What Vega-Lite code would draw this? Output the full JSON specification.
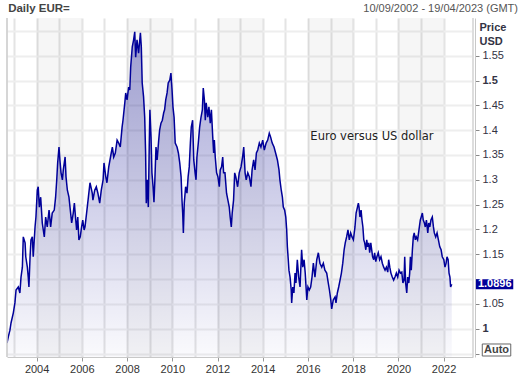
{
  "$schema": "https://vega.github.io/schema/vega-lite/v6.json",
  "width": 466,
  "height": 339,
  "autosize": {"type": "none"},
  "padding": {"left": 7, "top": 18, "right": 48, "bottom": 16},
  "background": "white",
  "config": {"view": {"stroke": null}, "font": "Liberation Sans"},
  "datasets": {
    "bands": [{"from": 2004, "to": 2006}, {"from": 2008, "to": 2010}, {"from": 2012, "to": 2014}, {"from": 2016, "to": 2018}, {"from": 2020, "to": 2022}],
    "eurusd": [
      {"year":2002.69,"usd":0.971},{"year":2002.75,"usd":0.984},{"year":2002.82,"usd":0.997},{"year":2002.87,"usd":1.012},{"year":2002.97,"usd":1.032},{"year":2003.04,"usd":1.052},{"year":2003.09,"usd":1.078},{"year":2003.19,"usd":1.084},{"year":2003.26,"usd":1.072},{"year":2003.31,"usd":1.104},{"year":2003.37,"usd":1.124},{"year":2003.41,"usd":1.185},{"year":2003.49,"usd":1.173},{"year":2003.52,"usd":1.145},{"year":2003.59,"usd":1.124},{"year":2003.63,"usd":1.104},{"year":2003.66,"usd":1.084},{"year":2003.71,"usd":1.145},{"year":2003.75,"usd":1.179},{"year":2003.81,"usd":1.185},{"year":2003.85,"usd":1.145},{"year":2003.93,"usd":1.205},{"year":2003.97,"usd":1.225},
      {"year":2004.03,"usd":1.279},{"year":2004.07,"usd":1.286},{"year":2004.12,"usd":1.245},{"year":2004.18,"usd":1.265},{"year":2004.25,"usd":1.213},{"year":2004.34,"usd":1.185},{"year":2004.40,"usd":1.225},{"year":2004.47,"usd":1.205},{"year":2004.55,"usd":1.239},{"year":2004.62,"usd":1.205},{"year":2004.69,"usd":1.233},{"year":2004.78,"usd":1.239},{"year":2004.84,"usd":1.265},{"year":2004.89,"usd":1.300},{"year":2004.93,"usd":1.334},{"year":2004.99,"usd":1.366},
      {"year":2005.03,"usd":1.340},{"year":2005.08,"usd":1.314},{"year":2005.14,"usd":1.300},{"year":2005.18,"usd":1.320},{"year":2005.26,"usd":1.346},{"year":2005.30,"usd":1.306},{"year":2005.36,"usd":1.279},{"year":2005.43,"usd":1.265},{"year":2005.49,"usd":1.239},{"year":2005.55,"usd":1.213},{"year":2005.62,"usd":1.233},{"year":2005.67,"usd":1.253},{"year":2005.73,"usd":1.219},{"year":2005.77,"usd":1.199},{"year":2005.82,"usd":1.225},{"year":2005.87,"usd":1.179},{"year":2005.93,"usd":1.185},{"year":2005.99,"usd":1.205},
      {"year":2006.04,"usd":1.219},{"year":2006.10,"usd":1.199},{"year":2006.14,"usd":1.205},{"year":2006.21,"usd":1.233},{"year":2006.29,"usd":1.265},{"year":2006.36,"usd":1.294},{"year":2006.40,"usd":1.286},{"year":2006.46,"usd":1.273},{"year":2006.49,"usd":1.259},{"year":2006.57,"usd":1.279},{"year":2006.64,"usd":1.286},{"year":2006.71,"usd":1.273},{"year":2006.79,"usd":1.253},{"year":2006.86,"usd":1.279},{"year":2006.94,"usd":1.300},{"year":2006.98,"usd":1.334},
      {"year":2007.06,"usd":1.306},{"year":2007.11,"usd":1.294},{"year":2007.19,"usd":1.326},{"year":2007.30,"usd":1.354},{"year":2007.35,"usd":1.366},{"year":2007.41,"usd":1.346},{"year":2007.48,"usd":1.354},{"year":2007.56,"usd":1.380},{"year":2007.63,"usd":1.374},{"year":2007.70,"usd":1.366},{"year":2007.78,"usd":1.406},{"year":2007.82,"usd":1.420},{"year":2007.90,"usd":1.455},{"year":2007.94,"usd":1.475},
      {"year":2008.00,"usd":1.461},{"year":2008.07,"usd":1.487},{"year":2008.12,"usd":1.481},{"year":2008.16,"usd":1.527},{"year":2008.23,"usd":1.568},{"year":2008.29,"usd":1.582},{"year":2008.34,"usd":1.598},{"year":2008.38,"usd":1.547},{"year":2008.44,"usd":1.582},{"year":2008.51,"usd":1.555},{"year":2008.59,"usd":1.596},{"year":2008.63,"usd":1.568},{"year":2008.67,"usd":1.495},{"year":2008.73,"usd":1.467},{"year":2008.78,"usd":1.426},{"year":2008.82,"usd":1.354},{"year":2008.85,"usd":1.253},{"year":2008.89,"usd":1.300},{"year":2008.94,"usd":1.245},{"year":2008.98,"usd":1.366},
      {"year":2009.01,"usd":1.441},{"year":2009.06,"usd":1.386},{"year":2009.10,"usd":1.314},{"year":2009.15,"usd":1.286},{"year":2009.19,"usd":1.255},{"year":2009.23,"usd":1.300},{"year":2009.28,"usd":1.366},{"year":2009.33,"usd":1.340},{"year":2009.40,"usd":1.380},{"year":2009.44,"usd":1.400},{"year":2009.50,"usd":1.414},{"year":2009.56,"usd":1.420},{"year":2009.62,"usd":1.435},{"year":2009.66,"usd":1.441},{"year":2009.71,"usd":1.461},{"year":2009.77,"usd":1.475},{"year":2009.82,"usd":1.495},{"year":2009.89,"usd":1.501},{"year":2009.94,"usd":1.515},{"year":2009.99,"usd":1.481},
      {"year":2010.03,"usd":1.447},{"year":2010.08,"usd":1.426},{"year":2010.13,"usd":1.374},{"year":2010.21,"usd":1.366},{"year":2010.27,"usd":1.354},{"year":2010.33,"usd":1.334},{"year":2010.39,"usd":1.306},{"year":2010.43,"usd":1.259},{"year":2010.46,"usd":1.233},{"year":2010.49,"usd":1.193},{"year":2010.53,"usd":1.253},{"year":2010.59,"usd":1.286},{"year":2010.65,"usd":1.273},{"year":2010.70,"usd":1.306},{"year":2010.75,"usd":1.326},{"year":2010.80,"usd":1.374},{"year":2010.84,"usd":1.406},{"year":2010.90,"usd":1.420},{"year":2010.95,"usd":1.340},
      {"year":2011.01,"usd":1.314},{"year":2011.05,"usd":1.300},{"year":2011.09,"usd":1.346},{"year":2011.15,"usd":1.374},{"year":2011.21,"usd":1.406},{"year":2011.27,"usd":1.426},{"year":2011.33,"usd":1.441},{"year":2011.37,"usd":1.485},{"year":2011.42,"usd":1.461},{"year":2011.46,"usd":1.420},{"year":2011.50,"usd":1.455},{"year":2011.57,"usd":1.426},{"year":2011.62,"usd":1.447},{"year":2011.68,"usd":1.414},{"year":2011.73,"usd":1.441},{"year":2011.79,"usd":1.386},{"year":2011.83,"usd":1.354},{"year":2011.86,"usd":1.380},{"year":2011.90,"usd":1.346},{"year":2011.96,"usd":1.314},
      {"year":2012.02,"usd":1.306},{"year":2012.08,"usd":1.286},{"year":2012.12,"usd":1.320},{"year":2012.18,"usd":1.326},{"year":2012.23,"usd":1.346},{"year":2012.27,"usd":1.314},{"year":2012.33,"usd":1.314},{"year":2012.40,"usd":1.273},{"year":2012.46,"usd":1.259},{"year":2012.52,"usd":1.245},{"year":2012.56,"usd":1.225},{"year":2012.61,"usd":1.205},{"year":2012.65,"usd":1.233},{"year":2012.71,"usd":1.259},{"year":2012.76,"usd":1.314},{"year":2012.81,"usd":1.306},{"year":2012.89,"usd":1.286},{"year":2012.96,"usd":1.314},
      {"year":2013.04,"usd":1.326},{"year":2013.11,"usd":1.346},{"year":2013.16,"usd":1.366},{"year":2013.22,"usd":1.314},{"year":2013.27,"usd":1.300},{"year":2013.34,"usd":1.314},{"year":2013.41,"usd":1.306},{"year":2013.48,"usd":1.286},{"year":2013.53,"usd":1.320},{"year":2013.60,"usd":1.340},{"year":2013.66,"usd":1.320},{"year":2013.72,"usd":1.354},{"year":2013.78,"usd":1.360},{"year":2013.85,"usd":1.374},{"year":2013.92,"usd":1.366},
      {"year":2014.00,"usd":1.380},{"year":2014.07,"usd":1.360},{"year":2014.15,"usd":1.374},{"year":2014.22,"usd":1.380},{"year":2014.29,"usd":1.394},{"year":2014.35,"usd":1.386},{"year":2014.42,"usd":1.374},{"year":2014.50,"usd":1.366},{"year":2014.57,"usd":1.354},{"year":2014.65,"usd":1.340},{"year":2014.72,"usd":1.320},{"year":2014.76,"usd":1.300},{"year":2014.82,"usd":1.279},{"year":2014.87,"usd":1.265},{"year":2014.91,"usd":1.245},{"year":2014.97,"usd":1.239},
      {"year":2015.02,"usd":1.225},{"year":2015.06,"usd":1.199},{"year":2015.09,"usd":1.165},{"year":2015.13,"usd":1.139},{"year":2015.16,"usd":1.118},{"year":2015.21,"usd":1.104},{"year":2015.26,"usd":1.078},{"year":2015.28,"usd":1.052},{"year":2015.33,"usd":1.084},{"year":2015.38,"usd":1.072},{"year":2015.43,"usd":1.112},{"year":2015.47,"usd":1.092},{"year":2015.53,"usd":1.139},{"year":2015.59,"usd":1.104},{"year":2015.65,"usd":1.084},{"year":2015.72,"usd":1.159},{"year":2015.77,"usd":1.124},{"year":2015.83,"usd":1.139},{"year":2015.88,"usd":1.112},{"year":2015.95,"usd":1.058},
      {"year":2016.00,"usd":1.084},{"year":2016.06,"usd":1.078},{"year":2016.12,"usd":1.084},{"year":2016.18,"usd":1.104},{"year":2016.24,"usd":1.132},{"year":2016.31,"usd":1.104},{"year":2016.39,"usd":1.139},{"year":2016.46,"usd":1.153},{"year":2016.53,"usd":1.132},{"year":2016.61,"usd":1.124},{"year":2016.68,"usd":1.132},{"year":2016.75,"usd":1.118},{"year":2016.83,"usd":1.112},{"year":2016.90,"usd":1.092},{"year":2016.95,"usd":1.078},
      {"year":2017.01,"usd":1.058},{"year":2017.05,"usd":1.040},{"year":2017.12,"usd":1.058},{"year":2017.20,"usd":1.064},{"year":2017.24,"usd":1.052},{"year":2017.30,"usd":1.072},{"year":2017.36,"usd":1.084},{"year":2017.42,"usd":1.098},{"year":2017.48,"usd":1.112},{"year":2017.54,"usd":1.132},{"year":2017.60,"usd":1.159},{"year":2017.65,"usd":1.173},{"year":2017.71,"usd":1.185},{"year":2017.77,"usd":1.199},{"year":2017.83,"usd":1.179},{"year":2017.89,"usd":1.193},{"year":2017.95,"usd":1.185},
      {"year":2018.01,"usd":1.179},{"year":2018.08,"usd":1.205},{"year":2018.13,"usd":1.233},{"year":2018.19,"usd":1.245},{"year":2018.23,"usd":1.253},{"year":2018.26,"usd":1.245},{"year":2018.30,"usd":1.225},{"year":2018.35,"usd":1.239},{"year":2018.39,"usd":1.219},{"year":2018.43,"usd":1.205},{"year":2018.47,"usd":1.179},{"year":2018.51,"usd":1.173},{"year":2018.56,"usd":1.159},{"year":2018.60,"usd":1.179},{"year":2018.64,"usd":1.165},{"year":2018.69,"usd":1.173},{"year":2018.73,"usd":1.153},{"year":2018.78,"usd":1.173},{"year":2018.82,"usd":1.159},{"year":2018.86,"usd":1.145},{"year":2018.91,"usd":1.139},{"year":2018.95,"usd":1.153},
      {"year":2019.00,"usd":1.135},{"year":2019.05,"usd":1.145},{"year":2019.11,"usd":1.153},{"year":2019.17,"usd":1.139},{"year":2019.23,"usd":1.145},{"year":2019.29,"usd":1.132},{"year":2019.35,"usd":1.124},{"year":2019.41,"usd":1.118},{"year":2019.47,"usd":1.124},{"year":2019.53,"usd":1.114},{"year":2019.57,"usd":1.139},{"year":2019.62,"usd":1.124},{"year":2019.67,"usd":1.112},{"year":2019.73,"usd":1.104},{"year":2019.79,"usd":1.098},{"year":2019.85,"usd":1.104},{"year":2019.91,"usd":1.112},{"year":2019.97,"usd":1.104},
      {"year":2020.03,"usd":1.118},{"year":2020.09,"usd":1.112},{"year":2020.15,"usd":1.114},{"year":2020.20,"usd":1.092},{"year":2020.25,"usd":1.098},{"year":2020.28,"usd":1.145},{"year":2020.32,"usd":1.092},{"year":2020.37,"usd":1.072},{"year":2020.41,"usd":1.104},{"year":2020.46,"usd":1.092},{"year":2020.50,"usd":1.112},{"year":2020.53,"usd":1.145},{"year":2020.57,"usd":1.118},{"year":2020.62,"usd":1.159},{"year":2020.66,"usd":1.185},{"year":2020.70,"usd":1.193},{"year":2020.75,"usd":1.179},{"year":2020.79,"usd":1.185},{"year":2020.85,"usd":1.179},{"year":2020.91,"usd":1.199},{"year":2020.97,"usd":1.219},
      {"year":2021.01,"usd":1.225},{"year":2021.06,"usd":1.233},{"year":2021.10,"usd":1.219},{"year":2021.15,"usd":1.213},{"year":2021.19,"usd":1.205},{"year":2021.24,"usd":1.219},{"year":2021.30,"usd":1.193},{"year":2021.34,"usd":1.213},{"year":2021.39,"usd":1.205},{"year":2021.44,"usd":1.219},{"year":2021.50,"usd":1.225},{"year":2021.55,"usd":1.205},{"year":2021.59,"usd":1.193},{"year":2021.65,"usd":1.185},{"year":2021.71,"usd":1.193},{"year":2021.77,"usd":1.179},{"year":2021.83,"usd":1.165},{"year":2021.89,"usd":1.159},{"year":2021.94,"usd":1.145},
      {"year":2022.01,"usd":1.139},{"year":2022.06,"usd":1.124},{"year":2022.11,"usd":1.132},{"year":2022.15,"usd":1.145},{"year":2022.20,"usd":1.139},{"year":2022.24,"usd":1.112},{"year":2022.28,"usd":1.104},{"year":2022.31,"usd":1.084},{"year":2022.36,"usd":1.0896}
    ]
  },
  "layer": [
    {
      "data": {"name": "bands"},
      "mark": {"type": "rect", "fill": "#000000", "opacity": 0.035},
      "encoding": {
        "x": {"field": "from", "type": "quantitative",
          "scale": {"domain": [2002.69, 2023.30], "nice": false, "zero": false},
          "axis": {"title": null, "values": [2003, 2004, 2005, 2006, 2007, 2008, 2009, 2010, 2011, 2012, 2013, 2014, 2015, 2016, 2017, 2018, 2019, 2020, 2021, 2022], "labelExpr": "datum.value % 2 == 0 ? format(datum.value, 'd') : ''", "labelFont": "Liberation Sans", "labelFontSize": 11, "labelColor": "#333333", "labelPadding": 2, "labelFlush": false, "labelOverlap": false, "labelBound": false, "tickSize": {"condition": {"test": "datum.value % 2 == 0", "value": 4}, "value": 0}, "tickColor": "#999999", "domainColor": "#c8c8c8", "grid": true, "gridColor": "#e4e4e4", "gridWidth": 2}},
        "x2": {"field": "to"}
      }
    },
    {
      "data": {"name": "eurusd"},
      "mark": {
        "type": "area",
        "clip": true,
        "color": {"gradient": "linear", "x1": 0, "y1": 0, "x2": 0, "y2": 1,
          "stops": [{"offset": 0, "color": "rgba(0,0,140,0.36)"}, {"offset": 1, "color": "rgba(0,0,140,0.02)"}]}
      },
      "encoding": {
        "x": {"field": "year", "type": "quantitative",
          "axis": {"title": null, "values": [2003, 2004, 2005, 2006, 2007, 2008, 2009, 2010, 2011, 2012, 2013, 2014, 2015, 2016, 2017, 2018, 2019, 2020, 2021, 2022], "labelExpr": "datum.value % 2 == 0 ? format(datum.value, 'd') : ''", "labelFont": "Liberation Sans", "labelFontSize": 11, "labelColor": "#333333", "labelPadding": 2, "labelFlush": false, "labelOverlap": false, "labelBound": false, "tickSize": {"condition": {"test": "datum.value % 2 == 0", "value": 4}, "value": 0}, "tickColor": "#999999", "domainColor": "#c8c8c8", "grid": true, "gridColor": "#e4e4e4", "gridWidth": 2}},
        "y": {"field": "usd", "type": "quantitative",
          "scale": {"domain": [0.943, 1.626], "nice": false, "zero": false},
          "axis": {"orient": "right", "offset": 2, "values": [0.95, 1, 1.05, 1.1, 1.15, 1.2, 1.25, 1.3, 1.35, 1.4, 1.45, 1.5, 1.55, 1.6], "labelExpr": "datum.value < 0.96 || datum.value > 1.58 || datum.value == 1.1 ? '' : format(datum.value, '.2~f')", "labelFont": "Liberation Sans", "labelFontSize": 11, "labelColor": "#333344", "labelFontWeight": {"condition": {"test": "datum.value == 1.5 || datum.value == 1", "value": "bold"}, "value": "normal"}, "labelPadding": 3, "labelOverlap": false, "labelBound": false, "tickSize": {"condition": {"test": "datum.value > 1.58", "value": 0}, "value": 4}, "tickColor": "#888888", "domainColor": "#c8c8c8", "grid": true, "gridColor": "#eeeeee", "gridWidth": 2, "title": ["Price", "USD"], "titleAngle": 0, "titleAlign": "left", "titleBaseline": "alphabetic", "titleX": 4, "titleY": 12, "titleLineHeight": 14, "titleFont": "Liberation Sans", "titleFontSize": 11, "titleFontWeight": "bold", "titleColor": "#333344"}},
        "y2": {"datum": 0.943}
      }
    },
    {
      "data": {"name": "eurusd"},
      "mark": {"type": "line", "color": "#000099", "strokeWidth": 1.5, "clip": true},
      "encoding": {
        "x": {"field": "year", "type": "quantitative",
          "axis": {"title": null, "values": [2003, 2004, 2005, 2006, 2007, 2008, 2009, 2010, 2011, 2012, 2013, 2014, 2015, 2016, 2017, 2018, 2019, 2020, 2021, 2022], "labelExpr": "datum.value % 2 == 0 ? format(datum.value, 'd') : ''", "labelFont": "Liberation Sans", "labelFontSize": 11, "labelColor": "#333333", "labelPadding": 2, "labelFlush": false, "labelOverlap": false, "labelBound": false, "tickSize": {"condition": {"test": "datum.value % 2 == 0", "value": 4}, "value": 0}, "tickColor": "#999999", "domainColor": "#c8c8c8", "grid": true, "gridColor": "#e4e4e4", "gridWidth": 2}},
        "y": {"field": "usd", "type": "quantitative",
          "axis": {"orient": "right", "offset": 2, "values": [0.95, 1, 1.05, 1.1, 1.15, 1.2, 1.25, 1.3, 1.35, 1.4, 1.45, 1.5, 1.55, 1.6], "labelExpr": "datum.value < 0.96 || datum.value > 1.58 || datum.value == 1.1 ? '' : format(datum.value, '.2~f')", "labelFont": "Liberation Sans", "labelFontSize": 11, "labelColor": "#333344", "labelFontWeight": {"condition": {"test": "datum.value == 1.5 || datum.value == 1", "value": "bold"}, "value": "normal"}, "labelPadding": 3, "labelOverlap": false, "labelBound": false, "tickSize": {"condition": {"test": "datum.value > 1.58", "value": 0}, "value": 4}, "tickColor": "#888888", "domainColor": "#c8c8c8", "grid": true, "gridColor": "#eeeeee", "gridWidth": 2, "title": ["Price", "USD"], "titleAngle": 0, "titleAlign": "left", "titleBaseline": "alphabetic", "titleX": 4, "titleY": 12, "titleLineHeight": 14, "titleFont": "Liberation Sans", "titleFontSize": 11, "titleFontWeight": "bold", "titleColor": "#333344"}}
      }
    },
    {
      "data": {"values": [{}]},
      "mark": {"type": "rule", "color": "#c8c8c8", "strokeWidth": 1.5},
      "encoding": {"x": {"datum": 2002.69, "type": "quantitative",
        "axis": {"title": null, "values": [2003, 2004, 2005, 2006, 2007, 2008, 2009, 2010, 2011, 2012, 2013, 2014, 2015, 2016, 2017, 2018, 2019, 2020, 2021, 2022], "labelExpr": "datum.value % 2 == 0 ? format(datum.value, 'd') : ''", "labelFont": "Liberation Sans", "labelFontSize": 11, "labelColor": "#333333", "labelPadding": 2, "labelFlush": false, "labelOverlap": false, "labelBound": false, "tickSize": {"condition": {"test": "datum.value % 2 == 0", "value": 4}, "value": 0}, "tickColor": "#999999", "domainColor": "#c8c8c8", "grid": true, "gridColor": "#e4e4e4", "gridWidth": 2}}}
    },
    {
      "data": {"values": [{}]},
      "mark": {"type": "rule", "color": "#dddddd", "strokeWidth": 2},
      "encoding": {"x": {"datum": 2023.30, "type": "quantitative",
        "axis": {"title": null, "values": [2003, 2004, 2005, 2006, 2007, 2008, 2009, 2010, 2011, 2012, 2013, 2014, 2015, 2016, 2017, 2018, 2019, 2020, 2021, 2022], "labelExpr": "datum.value % 2 == 0 ? format(datum.value, 'd') : ''", "labelFont": "Liberation Sans", "labelFontSize": 11, "labelColor": "#333333", "labelPadding": 2, "labelFlush": false, "labelOverlap": false, "labelBound": false, "tickSize": {"condition": {"test": "datum.value % 2 == 0", "value": 4}, "value": 0}, "tickColor": "#999999", "domainColor": "#c8c8c8", "grid": true, "gridColor": "#e4e4e4", "gridWidth": 2}}}
    },
    {
      "data": {"values": [{}]},
      "mark": {"type": "text", "font": "DejaVu Sans", "fontSize": 11.5, "color": "#222222", "align": "center", "baseline": "middle"},
      "encoding": {
        "x": {"datum": 2018.83, "type": "quantitative",
          "axis": {"title": null, "values": [2003, 2004, 2005, 2006, 2007, 2008, 2009, 2010, 2011, 2012, 2013, 2014, 2015, 2016, 2017, 2018, 2019, 2020, 2021, 2022], "labelExpr": "datum.value % 2 == 0 ? format(datum.value, 'd') : ''", "labelFont": "Liberation Sans", "labelFontSize": 11, "labelColor": "#333333", "labelPadding": 2, "labelFlush": false, "labelOverlap": false, "labelBound": false, "tickSize": {"condition": {"test": "datum.value % 2 == 0", "value": 4}, "value": 0}, "tickColor": "#999999", "domainColor": "#c8c8c8", "grid": true, "gridColor": "#e4e4e4", "gridWidth": 2}},
        "y": {"datum": 1.387, "type": "quantitative",
          "axis": {"orient": "right", "offset": 2, "values": [0.95, 1, 1.05, 1.1, 1.15, 1.2, 1.25, 1.3, 1.35, 1.4, 1.45, 1.5, 1.55, 1.6], "labelExpr": "datum.value < 0.96 || datum.value > 1.58 || datum.value == 1.1 ? '' : format(datum.value, '.2~f')", "labelFont": "Liberation Sans", "labelFontSize": 11, "labelColor": "#333344", "labelFontWeight": {"condition": {"test": "datum.value == 1.5 || datum.value == 1", "value": "bold"}, "value": "normal"}, "labelPadding": 3, "labelOverlap": false, "labelBound": false, "tickSize": {"condition": {"test": "datum.value > 1.58", "value": 0}, "value": 4}, "tickColor": "#888888", "domainColor": "#c8c8c8", "grid": true, "gridColor": "#eeeeee", "gridWidth": 2, "title": ["Price", "USD"], "titleAngle": 0, "titleAlign": "left", "titleBaseline": "alphabetic", "titleX": 4, "titleY": 12, "titleLineHeight": 14, "titleFont": "Liberation Sans", "titleFontSize": 11, "titleFontWeight": "bold", "titleColor": "#333344"}},
        "text": {"value": "Euro versus US dollar"}
      }
    },
    {
      "data": {"values": [{}]},
      "mark": {"type": "rect", "fill": "#000099"},
      "encoding": {
        "x": {"datum": 2023.43, "type": "quantitative",
          "axis": {"title": null, "values": [2003, 2004, 2005, 2006, 2007, 2008, 2009, 2010, 2011, 2012, 2013, 2014, 2015, 2016, 2017, 2018, 2019, 2020, 2021, 2022], "labelExpr": "datum.value % 2 == 0 ? format(datum.value, 'd') : ''", "labelFont": "Liberation Sans", "labelFontSize": 11, "labelColor": "#333333", "labelPadding": 2, "labelFlush": false, "labelOverlap": false, "labelBound": false, "tickSize": {"condition": {"test": "datum.value % 2 == 0", "value": 4}, "value": 0}, "tickColor": "#999999", "domainColor": "#c8c8c8", "grid": true, "gridColor": "#e4e4e4", "gridWidth": 2}},
        "x2": {"datum": 2025.08},
        "y": {"datum": 1.0996, "type": "quantitative",
          "axis": {"orient": "right", "offset": 2, "values": [0.95, 1, 1.05, 1.1, 1.15, 1.2, 1.25, 1.3, 1.35, 1.4, 1.45, 1.5, 1.55, 1.6], "labelExpr": "datum.value < 0.96 || datum.value > 1.58 || datum.value == 1.1 ? '' : format(datum.value, '.2~f')", "labelFont": "Liberation Sans", "labelFontSize": 11, "labelColor": "#333344", "labelFontWeight": {"condition": {"test": "datum.value == 1.5 || datum.value == 1", "value": "bold"}, "value": "normal"}, "labelPadding": 3, "labelOverlap": false, "labelBound": false, "tickSize": {"condition": {"test": "datum.value > 1.58", "value": 0}, "value": 4}, "tickColor": "#888888", "domainColor": "#c8c8c8", "grid": true, "gridColor": "#eeeeee", "gridWidth": 2, "title": ["Price", "USD"], "titleAngle": 0, "titleAlign": "left", "titleBaseline": "alphabetic", "titleX": 4, "titleY": 12, "titleLineHeight": 14, "titleFont": "Liberation Sans", "titleFontSize": 11, "titleFontWeight": "bold", "titleColor": "#333344"}},
        "y2": {"datum": 1.0795}
      }
    },
    {
      "data": {"values": [{}]},
      "mark": {"type": "text", "font": "Liberation Sans", "fontSize": 11, "fontWeight": "bold", "color": "#ffffff", "align": "center", "baseline": "middle"},
      "encoding": {
        "x": {"datum": 2024.26, "type": "quantitative",
          "axis": {"title": null, "values": [2003, 2004, 2005, 2006, 2007, 2008, 2009, 2010, 2011, 2012, 2013, 2014, 2015, 2016, 2017, 2018, 2019, 2020, 2021, 2022], "labelExpr": "datum.value % 2 == 0 ? format(datum.value, 'd') : ''", "labelFont": "Liberation Sans", "labelFontSize": 11, "labelColor": "#333333", "labelPadding": 2, "labelFlush": false, "labelOverlap": false, "labelBound": false, "tickSize": {"condition": {"test": "datum.value % 2 == 0", "value": 4}, "value": 0}, "tickColor": "#999999", "domainColor": "#c8c8c8", "grid": true, "gridColor": "#e4e4e4", "gridWidth": 2}},
        "y": {"datum": 1.0896, "type": "quantitative",
          "axis": {"orient": "right", "offset": 2, "values": [0.95, 1, 1.05, 1.1, 1.15, 1.2, 1.25, 1.3, 1.35, 1.4, 1.45, 1.5, 1.55, 1.6], "labelExpr": "datum.value < 0.96 || datum.value > 1.58 || datum.value == 1.1 ? '' : format(datum.value, '.2~f')", "labelFont": "Liberation Sans", "labelFontSize": 11, "labelColor": "#333344", "labelFontWeight": {"condition": {"test": "datum.value == 1.5 || datum.value == 1", "value": "bold"}, "value": "normal"}, "labelPadding": 3, "labelOverlap": false, "labelBound": false, "tickSize": {"condition": {"test": "datum.value > 1.58", "value": 0}, "value": 4}, "tickColor": "#888888", "domainColor": "#c8c8c8", "grid": true, "gridColor": "#eeeeee", "gridWidth": 2, "title": ["Price", "USD"], "titleAngle": 0, "titleAlign": "left", "titleBaseline": "alphabetic", "titleX": 4, "titleY": 12, "titleLineHeight": 14, "titleFont": "Liberation Sans", "titleFontSize": 11, "titleFontWeight": "bold", "titleColor": "#333344"}},
        "text": {"value": "1.0896"}
      }
    },
    {
      "data": {"values": [{}]},
      "mark": {"type": "rect", "fill": "#ffffff", "stroke": "#666666", "strokeWidth": 1},
      "encoding": {
        "x": {"datum": 2023.71, "type": "quantitative",
          "axis": {"title": null, "values": [2003, 2004, 2005, 2006, 2007, 2008, 2009, 2010, 2011, 2012, 2013, 2014, 2015, 2016, 2017, 2018, 2019, 2020, 2021, 2022], "labelExpr": "datum.value % 2 == 0 ? format(datum.value, 'd') : ''", "labelFont": "Liberation Sans", "labelFontSize": 11, "labelColor": "#333333", "labelPadding": 2, "labelFlush": false, "labelOverlap": false, "labelBound": false, "tickSize": {"condition": {"test": "datum.value % 2 == 0", "value": 4}, "value": 0}, "tickColor": "#999999", "domainColor": "#c8c8c8", "grid": true, "gridColor": "#e4e4e4", "gridWidth": 2}},
        "x2": {"datum": 2024.97},
        "y": {"datum": 0.9692, "type": "quantitative",
          "axis": {"orient": "right", "offset": 2, "values": [0.95, 1, 1.05, 1.1, 1.15, 1.2, 1.25, 1.3, 1.35, 1.4, 1.45, 1.5, 1.55, 1.6], "labelExpr": "datum.value < 0.96 || datum.value > 1.58 || datum.value == 1.1 ? '' : format(datum.value, '.2~f')", "labelFont": "Liberation Sans", "labelFontSize": 11, "labelColor": "#333344", "labelFontWeight": {"condition": {"test": "datum.value == 1.5 || datum.value == 1", "value": "bold"}, "value": "normal"}, "labelPadding": 3, "labelOverlap": false, "labelBound": false, "tickSize": {"condition": {"test": "datum.value > 1.58", "value": 0}, "value": 4}, "tickColor": "#888888", "domainColor": "#c8c8c8", "grid": true, "gridColor": "#eeeeee", "gridWidth": 2, "title": ["Price", "USD"], "titleAngle": 0, "titleAlign": "left", "titleBaseline": "alphabetic", "titleX": 4, "titleY": 12, "titleLineHeight": 14, "titleFont": "Liberation Sans", "titleFontSize": 11, "titleFontWeight": "bold", "titleColor": "#333344"}},
        "y2": {"datum": 0.945}
      }
    },
    {
      "data": {"values": [{}]},
      "mark": {"type": "text", "font": "Liberation Sans", "fontSize": 11, "fontWeight": "bold", "color": "#444444", "align": "center", "baseline": "middle"},
      "encoding": {
        "x": {"datum": 2024.34, "type": "quantitative",
          "axis": {"title": null, "values": [2003, 2004, 2005, 2006, 2007, 2008, 2009, 2010, 2011, 2012, 2013, 2014, 2015, 2016, 2017, 2018, 2019, 2020, 2021, 2022], "labelExpr": "datum.value % 2 == 0 ? format(datum.value, 'd') : ''", "labelFont": "Liberation Sans", "labelFontSize": 11, "labelColor": "#333333", "labelPadding": 2, "labelFlush": false, "labelOverlap": false, "labelBound": false, "tickSize": {"condition": {"test": "datum.value % 2 == 0", "value": 4}, "value": 0}, "tickColor": "#999999", "domainColor": "#c8c8c8", "grid": true, "gridColor": "#e4e4e4", "gridWidth": 2}},
        "y": {"datum": 0.957, "type": "quantitative",
          "axis": {"orient": "right", "offset": 2, "values": [0.95, 1, 1.05, 1.1, 1.15, 1.2, 1.25, 1.3, 1.35, 1.4, 1.45, 1.5, 1.55, 1.6], "labelExpr": "datum.value < 0.96 || datum.value > 1.58 || datum.value == 1.1 ? '' : format(datum.value, '.2~f')", "labelFont": "Liberation Sans", "labelFontSize": 11, "labelColor": "#333344", "labelFontWeight": {"condition": {"test": "datum.value == 1.5 || datum.value == 1", "value": "bold"}, "value": "normal"}, "labelPadding": 3, "labelOverlap": false, "labelBound": false, "tickSize": {"condition": {"test": "datum.value > 1.58", "value": 0}, "value": 4}, "tickColor": "#888888", "domainColor": "#c8c8c8", "grid": true, "gridColor": "#eeeeee", "gridWidth": 2, "title": ["Price", "USD"], "titleAngle": 0, "titleAlign": "left", "titleBaseline": "alphabetic", "titleX": 4, "titleY": 12, "titleLineHeight": 14, "titleFont": "Liberation Sans", "titleFontSize": 11, "titleFontWeight": "bold", "titleColor": "#333344"}},
        "text": {"value": "Auto"}
      }
    },
    {
      "data": {"values": [{}]},
      "mark": {"type": "text", "font": "Liberation Sans", "fontSize": 11, "color": "#555555", "align": "right", "baseline": "alphabetic"},
      "encoding": {
        "x": {"datum": 2025.29, "type": "quantitative",
          "axis": {"title": null, "values": [2003, 2004, 2005, 2006, 2007, 2008, 2009, 2010, 2011, 2012, 2013, 2014, 2015, 2016, 2017, 2018, 2019, 2020, 2021, 2022], "labelExpr": "datum.value % 2 == 0 ? format(datum.value, 'd') : ''", "labelFont": "Liberation Sans", "labelFontSize": 11, "labelColor": "#333333", "labelPadding": 2, "labelFlush": false, "labelOverlap": false, "labelBound": false, "tickSize": {"condition": {"test": "datum.value % 2 == 0", "value": 4}, "value": 0}, "tickColor": "#999999", "domainColor": "#c8c8c8", "grid": true, "gridColor": "#e4e4e4", "gridWidth": 2}},
        "y": {"datum": 1.638, "type": "quantitative",
          "axis": {"orient": "right", "offset": 2, "values": [0.95, 1, 1.05, 1.1, 1.15, 1.2, 1.25, 1.3, 1.35, 1.4, 1.45, 1.5, 1.55, 1.6], "labelExpr": "datum.value < 0.96 || datum.value > 1.58 || datum.value == 1.1 ? '' : format(datum.value, '.2~f')", "labelFont": "Liberation Sans", "labelFontSize": 11, "labelColor": "#333344", "labelFontWeight": {"condition": {"test": "datum.value == 1.5 || datum.value == 1", "value": "bold"}, "value": "normal"}, "labelPadding": 3, "labelOverlap": false, "labelBound": false, "tickSize": {"condition": {"test": "datum.value > 1.58", "value": 0}, "value": 4}, "tickColor": "#888888", "domainColor": "#c8c8c8", "grid": true, "gridColor": "#eeeeee", "gridWidth": 2, "title": ["Price", "USD"], "titleAngle": 0, "titleAlign": "left", "titleBaseline": "alphabetic", "titleX": 4, "titleY": 12, "titleLineHeight": 14, "titleFont": "Liberation Sans", "titleFontSize": 11, "titleFontWeight": "bold", "titleColor": "#333344"}},
        "text": {"value": "10/09/2002 - 19/04/2023 (GMT)"}
      }
    },
    {
      "data": {"values": [{}]},
      "mark": {"type": "text", "font": "Liberation Sans", "fontSize": 11.5, "fontWeight": "bold", "color": "#444444", "align": "left", "baseline": "alphabetic"},
      "encoding": {
        "x": {"datum": 2002.74, "type": "quantitative",
          "axis": {"title": null, "values": [2003, 2004, 2005, 2006, 2007, 2008, 2009, 2010, 2011, 2012, 2013, 2014, 2015, 2016, 2017, 2018, 2019, 2020, 2021, 2022], "labelExpr": "datum.value % 2 == 0 ? format(datum.value, 'd') : ''", "labelFont": "Liberation Sans", "labelFontSize": 11, "labelColor": "#333333", "labelPadding": 2, "labelFlush": false, "labelOverlap": false, "labelBound": false, "tickSize": {"condition": {"test": "datum.value % 2 == 0", "value": 4}, "value": 0}, "tickColor": "#999999", "domainColor": "#c8c8c8", "grid": true, "gridColor": "#e4e4e4", "gridWidth": 2}},
        "y": {"datum": 1.638, "type": "quantitative",
          "axis": {"orient": "right", "offset": 2, "values": [0.95, 1, 1.05, 1.1, 1.15, 1.2, 1.25, 1.3, 1.35, 1.4, 1.45, 1.5, 1.55, 1.6], "labelExpr": "datum.value < 0.96 || datum.value > 1.58 || datum.value == 1.1 ? '' : format(datum.value, '.2~f')", "labelFont": "Liberation Sans", "labelFontSize": 11, "labelColor": "#333344", "labelFontWeight": {"condition": {"test": "datum.value == 1.5 || datum.value == 1", "value": "bold"}, "value": "normal"}, "labelPadding": 3, "labelOverlap": false, "labelBound": false, "tickSize": {"condition": {"test": "datum.value > 1.58", "value": 0}, "value": 4}, "tickColor": "#888888", "domainColor": "#c8c8c8", "grid": true, "gridColor": "#eeeeee", "gridWidth": 2, "title": ["Price", "USD"], "titleAngle": 0, "titleAlign": "left", "titleBaseline": "alphabetic", "titleX": 4, "titleY": 12, "titleLineHeight": 14, "titleFont": "Liberation Sans", "titleFontSize": 11, "titleFontWeight": "bold", "titleColor": "#333344"}},
        "text": {"value": "Daily EUR="}
      }
    }
  ]
}
